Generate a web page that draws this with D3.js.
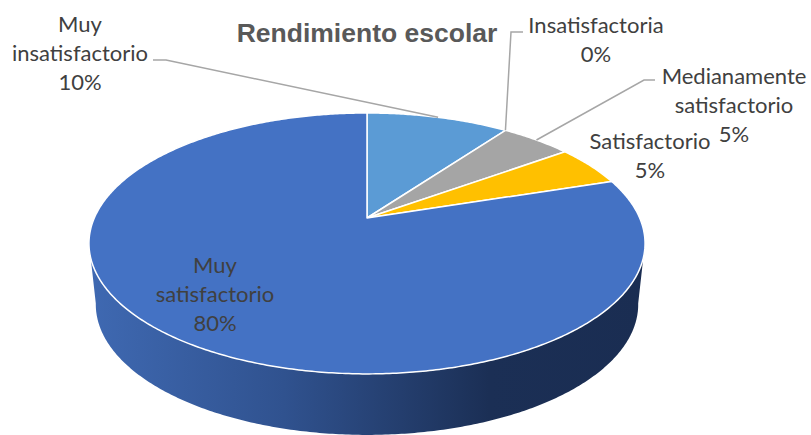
<!DOCTYPE html>
<html>
<head>
<meta charset="utf-8">
<script src="https://d3js.org/d3.v7.min.js"></script>
<style>
  html, body { margin: 0; padding: 0; background: #fff; }
  svg { display: block; }
</style>
</head>
<body>
<div id="chart"></div>
<script>
var categories = ["Muy insatisfactorio", "Insatisfactoria", "Medianamente satisfactorio", "Satisfactorio", "Muy satisfactorio"];
var values = [10, 0, 5, 5, 80];
var colors = ["#5b9bd5", "#ed7d31", "#a5a5a5", "#ffc000", "#4472c4"];

// wrapped label lines and where they sit, same order as categories
var labelLines = [["Muy", "insatisfactorio"], ["Insatisfactoria"], ["Medianamente", "satisfactorio"], ["Satisfactorio"], ["Muy", "satisfactorio"]];
var labelX = [80, 596, 734, 650, 215];
var labelY = [32, 33, 84, 149, 273];
// leader lines: text end and elbow, null where there is none
var leaderStart = [[153, 60], [523, 32], [655, 80], null, null];
var leaderElbow = [[166, 60], [511, 32], [644, 80], null, null];

var width = 811;
var height = 435;

var svg = d3.select("#chart")
  .append("svg")
  .attr("width", width)
  .attr("height", height);

// tilted disc: the pie centre is not the centre of the rim ellipse
function tilt(cx, cy, a, b, k) {
  return function(angle) {
    var u = Math.sin(angle), v = Math.cos(angle);
    var w = 1 + k * v;
    return [cx + a * u / w, cy - b * v / w];
  };
}
var top3d = tilt(367, 218, 272.7, 125.5, 0.195);
var bottom3d = tilt(367, 279, 266, 125.5, 0.195);

var pie = d3.pie().sort(null).value(function(d) { return d; });
var arcs = pie(values);
var line = d3.line();

function rim(project, a0, a1) {
  var n = Math.max(2, Math.ceil((a1 - a0) / 0.01));
  return d3.range(n + 1).map(function(i) { return project(a0 + (a1 - a0) * i / n); });
}

// side wall
var grad = svg.append("defs").append("linearGradient")
  .attr("id", "wall").attr("gradientUnits", "userSpaceOnUse")
  .attr("x1", 89).attr("x2", 645).attr("y1", 0).attr("y2", 0);
grad.append("stop").attr("offset", "0%").attr("stop-color", "#3f69b2");
grad.append("stop").attr("offset", "35%").attr("stop-color", "#30528f");
grad.append("stop").attr("offset", "72%").attr("stop-color", "#1b2f55");
grad.append("stop").attr("offset", "100%").attr("stop-color", "#1a2d52");

var wallStart = Math.PI * 0.56, wallEnd = Math.PI * 1.44;
var wallPoints = rim(top3d, wallStart, wallEnd).concat(rim(bottom3d, wallStart, wallEnd).reverse());
svg.append("path")
  .attr("d", line(wallPoints) + "Z")
  .attr("fill", "url(#wall)");

// top face
arcs.filter(function(d) { return d.value > 0; }).forEach(function(d) {
  svg.append("path")
    .attr("d", line([[367, 218]].concat(rim(top3d, d.startAngle, d.endAngle))) + "Z")
    .attr("fill", colors[d.index])
    .attr("stroke", "#fff")
    .attr("stroke-width", 1.5)
    .attr("stroke-linejoin", "round");
});

// leader lines run to the rim at the middle of each slice
arcs.forEach(function(d, i) {
  if (!leaderStart[i]) return;
  var mid = (d.startAngle + d.endAngle) / 2;
  svg.append("path")
    .attr("d", line([leaderStart[i], leaderElbow[i], top3d(mid)]))
    .attr("fill", "none")
    .attr("stroke", "#a6a6a6")
    .attr("stroke-width", 1.5);
});

// labels
var lineStep = 29;
categories.forEach(function(c, i) {
  var text = svg.append("text")
    .attr("text-anchor", "middle")
    .attr("font-family", "Lato, sans-serif")
    .attr("font-size", 22)
    .attr("fill", "#404040");
  labelLines[i].concat([values[i] + "%"]).forEach(function(t, j) {
    text.append("tspan")
      .attr("x", labelX[i])
      .attr("y", labelY[i] + j * lineStep)
      .text(t);
  });
});

svg.append("text")
  .attr("x", 367)
  .attr("y", 42)
  .attr("text-anchor", "middle")
  .attr("font-family", "Liberation Sans, Arial, sans-serif")
  .attr("font-weight", "bold")
  .attr("font-size", 26.5)
  .attr("fill", "#595959")
  .text("Rendimiento escolar");
</script>
</body>
</html>
